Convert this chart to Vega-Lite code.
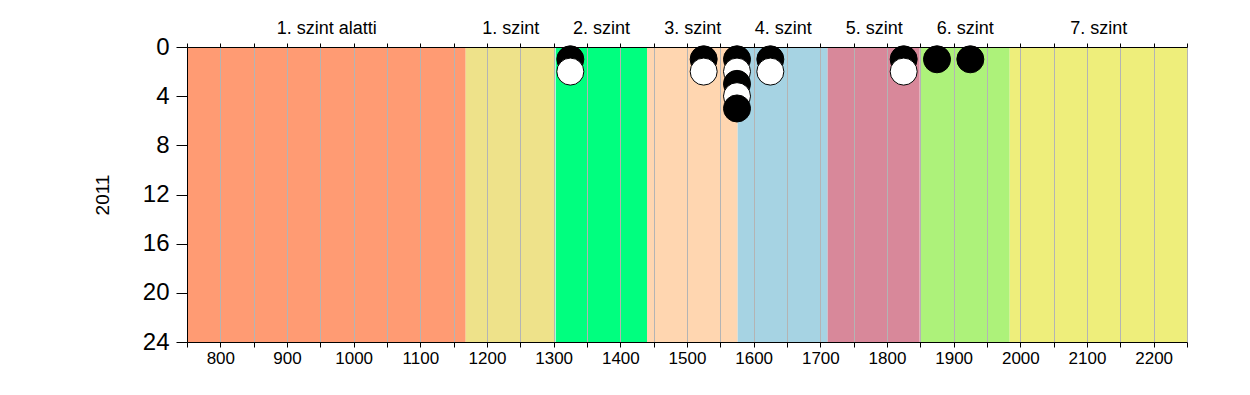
{
  "$schema": "https://vega.github.io/schema/vega-lite/v6.json",
  "width": 1000,
  "height": 295,
  "autosize": "none",
  "padding": {"left": 187, "top": 47, "right": 63, "bottom": 53},
  "background": "white",
  "config": {
    "font": "Liberation Sans",
    "view": {"stroke": null},
    "axis": {
      "domainColor": "black",
      "tickColor": "black",
      "labelColor": "black",
      "titleColor": "black",
      "labelFont": "Liberation Sans",
      "titleFont": "Liberation Sans"
    }
  },
  "datasets": {
    "bands": [
      {"level": "1. szint alatti", "start": 750, "end": 1168},
      {"level": "1. szint", "start": 1168, "end": 1302},
      {"level": "2. szint", "start": 1303, "end": 1440},
      {"level": "3. szint", "start": 1440, "end": 1576},
      {"level": "4. szint", "start": 1576, "end": 1711},
      {"level": "5. szint", "start": 1711, "end": 1849},
      {"level": "6. szint", "start": 1850, "end": 1984},
      {"level": "7. szint", "start": 1984, "end": 2250}
    ],
    "points": [
      {"score": 1325, "n": 1},
      {"score": 1325, "n": 2},
      {"score": 1525, "n": 1},
      {"score": 1525, "n": 2},
      {"score": 1575, "n": 1},
      {"score": 1575, "n": 2},
      {"score": 1575, "n": 3},
      {"score": 1575, "n": 4},
      {"score": 1575, "n": 5},
      {"score": 1625, "n": 1},
      {"score": 1625, "n": 2},
      {"score": 1825, "n": 1},
      {"score": 1825, "n": 2},
      {"score": 1875, "n": 1},
      {"score": 1925, "n": 1}
    ]
  },
  "layer": [
    {
      "data": {"name": "bands"},
      "mark": {"type": "rect"},
      "encoding": {
        "x": {
          "field": "start",
          "type": "quantitative",
          "scale": {"domain": [750, 2250], "nice": false, "zero": false},
          "axis": {
            "orient": "bottom",
            "title": null,
            "values": [750, 800, 850, 900, 950, 1000, 1050, 1100, 1150, 1200, 1250, 1300, 1350, 1400, 1450, 1500, 1550, 1600, 1650, 1700, 1750, 1800, 1850, 1900, 1950, 2000, 2050, 2100, 2150, 2200, 2250],
            "format": "d",
            "labelExpr": "datum.value % 100 == 0 ? datum.label : ''",
            "labelFontSize": 17,
            "labelPadding": 3,
            "tickSize": 5,
            "labelFlush": false,
            "labelOverlap": false,
            "grid": true,
            "gridColor": "#b4b4b4",
            "gridWidth": 1,
            "zindex": 1
          }
        },
        "x2": {"field": "end"},
        "color": {
          "field": "level",
          "type": "nominal",
          "scale": {
            "domain": ["1. szint alatti", "1. szint", "2. szint", "3. szint", "4. szint", "5. szint", "6. szint", "7. szint"],
            "range": ["#FF9B73", "#EEE28A", "#00FF7F", "#FFD6B0", "#A6D3E3", "#D8889A", "#ADF27A", "#EEEE7B"]
          },
          "legend": null
        }
      }
    },
    {
      "data": {"name": "points"},
      "mark": {"type": "circle", "size": 730, "stroke": "black", "strokeWidth": 1, "opacity": 1, "clip": false},
      "encoding": {
        "x": {
          "field": "score",
          "type": "quantitative",
          "axis": {
            "orient": "top",
            "title": null,
            "values": [750, 800, 850, 900, 950, 959, 1000, 1050, 1100, 1150, 1200, 1235, 1250, 1300, 1350, 1371, 1400, 1450, 1500, 1508, 1550, 1600, 1643.5, 1650, 1700, 1750, 1780, 1800, 1850, 1900, 1916.5, 1950, 2000, 2050, 2100, 2117, 2150, 2200, 2250],
            "labelExpr": "datum.value == 959 ? '1. szint alatti' : datum.value == 1235 ? '1. szint' : datum.value == 1371 ? '2. szint' : datum.value == 1508 ? '3. szint' : datum.value == 1643.5 ? '4. szint' : datum.value == 1780 ? '5. szint' : datum.value == 1916.5 ? '6. szint' : datum.value == 2117 ? '7. szint' : ''",
            "labelFontSize": 18,
            "labelPadding": 6,
            "tickSize": 4,
            "tickOpacity": {"condition": {"test": "datum.value % 50 != 0", "value": 0}, "value": 1},
            "labelFlush": false,
            "labelOverlap": false,
            "labelBound": false,
            "grid": false,
            "zindex": 1
          }
        },
        "y": {
          "field": "n",
          "type": "quantitative",
          "scale": {"domain": [0, 24], "reverse": true, "nice": false, "zero": true},
          "axis": {
            "values": [0, 4, 8, 12, 16, 20, 24],
            "title": "2011",
            "titleFontSize": 19,
            "titleFontWeight": "normal",
            "titlePadding": 30,
            "labelFontSize": 24,
            "labelPadding": 7,
            "tickSize": 11,
            "grid": false,
            "zindex": 1
          }
        },
        "fill": {
          "condition": {"test": "datum.n % 2 == 1", "value": "black"},
          "value": "white"
        }
      }
    }
  ],
  "resolve": {"axis": {"x": "independent"}}
}
